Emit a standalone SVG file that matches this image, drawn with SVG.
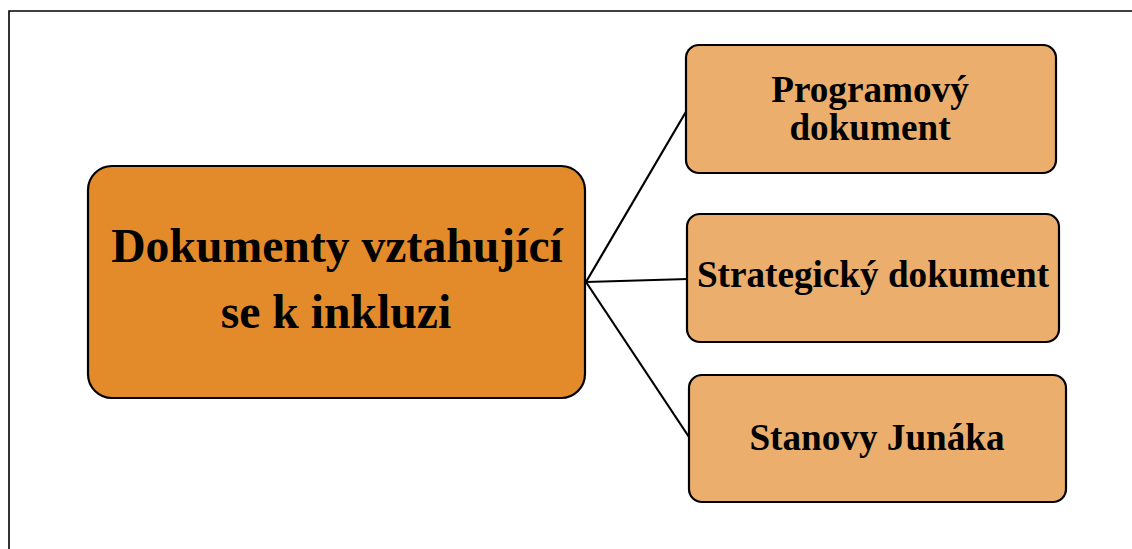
<svg xmlns="http://www.w3.org/2000/svg" width="1132" height="549" viewBox="0 0 1132 549">
<style>
.box{stroke:#000;stroke-width:2.2}
.main{fill:#E38B2B}
.sub{fill:#EBAE6C}
.t{font-family:"Liberation Serif","Times New Roman",serif;font-weight:bold;fill:#000;text-anchor:middle}
.conn{stroke:#000;stroke-width:2.2;fill:none}
</style>
<rect width="1132" height="549" fill="#fff"/>
<path d="M9,549 V11 H1132" fill="none" stroke="#000" stroke-width="1.6"/>
<g id="connectors">
<line class="conn" x1="586" y1="282" x2="687" y2="110"/>
<line class="conn" x1="586" y1="282" x2="688" y2="279"/>
<line class="conn" x1="586" y1="282" x2="689" y2="437"/>
</g>
<g id="main">
<rect class="box main" x="88" y="166" width="497" height="232" rx="24"/>
<text class="t" x="337" y="262" font-size="47.7">Dokumenty vztahující</text>
<text class="t" x="336" y="328" font-size="47.7">se k inkluzi</text>
</g>
<g id="n1">
<rect class="box sub" x="686" y="45" width="370" height="128" rx="13"/>
<text class="t" x="870" y="102" font-size="37.2">Programový</text>
<text class="t" x="870" y="140" font-size="37.2">dokument</text>
</g>
<g id="n2">
<rect class="box sub" x="687" y="214" width="372" height="128" rx="13"/>
<text class="t" x="873" y="287" font-size="37.2">Strategický dokument</text>
</g>
<g id="n3">
<rect class="box sub" x="689" y="375" width="377" height="127" rx="13"/>
<text class="t" x="877" y="450" font-size="37.2">Stanovy Junáka</text>
</g>
</svg>
